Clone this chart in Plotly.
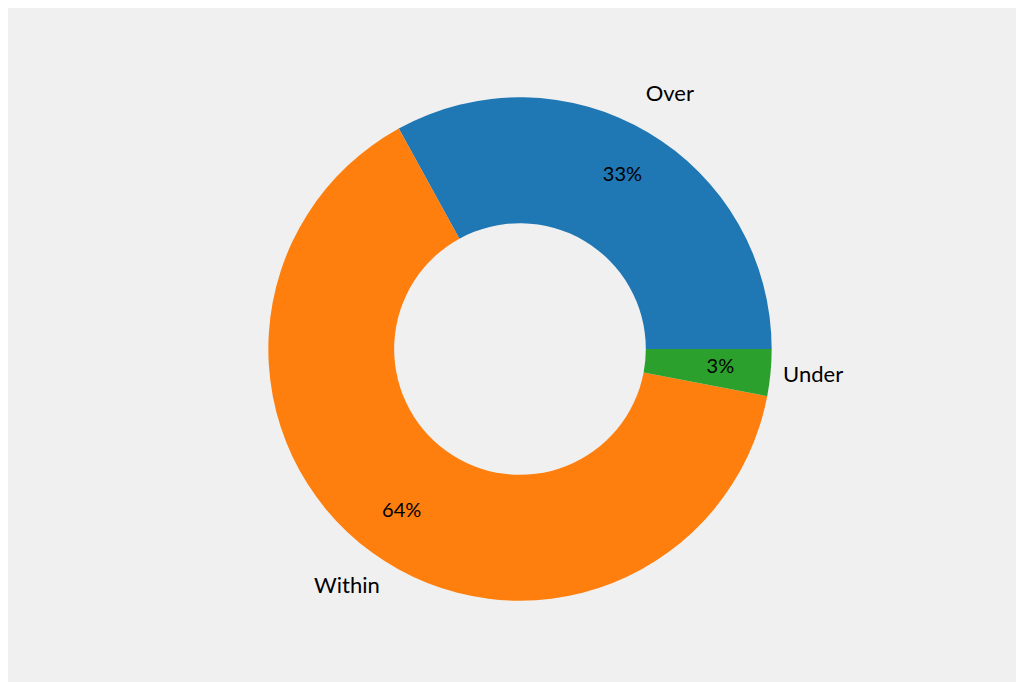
import numpy as np
import plotly.graph_objects as go

labels = ["Over", "Within", "Under"]
values = [33, 64, 3]
colors = ["#1f77b4", "#ff7f0e", "#2ca02c"]

# slice angles from the values (start at 3 o'clock, counterclockwise)
vals = np.array(values, dtype=float)
widths = vals / vals.sum() * 360
centers = np.cumsum(widths) - widths / 2
pct = [f"{v / vals.sum():.0%}" for v in vals]

fig = go.Figure()
fig.add_trace(go.Barpolar(
    theta=centers, width=widths, r=[0.5] * len(vals), base=0.5,
    marker={"color": colors, "line": {"width": 0}}, hoverinfo="skip",
))
fig.add_trace(go.Scatterpolar(
    theta=centers, r=[0.8] * len(vals), mode="text", text=pct,
    textfont={"size": 20, "color": "black"}, cliponaxis=False,
))
fig.add_trace(go.Scatterpolar(
    theta=centers, r=[1.17] * len(vals), mode="text", text=labels,
    textfont={"size": 22, "color": "black"}, cliponaxis=False,
))

fig.update_layout(
    width=1024, height=682,
    paper_bgcolor="#f0f0f0",
    showlegend=False,
    font={"family": "Lato, sans-serif"},
    margin={"l": 0, "r": 0, "t": 39, "b": 39},
    polar={
        "bgcolor": "rgba(0,0,0,0)",
        "hole": 0,
        "angularaxis": {"rotation": 0, "direction": "counterclockwise",
                        "visible": False, "showgrid": False},
        "radialaxis": {"range": [0, 1.2], "visible": False, "showgrid": False},
    },
)
fig.write_html("out.html")
